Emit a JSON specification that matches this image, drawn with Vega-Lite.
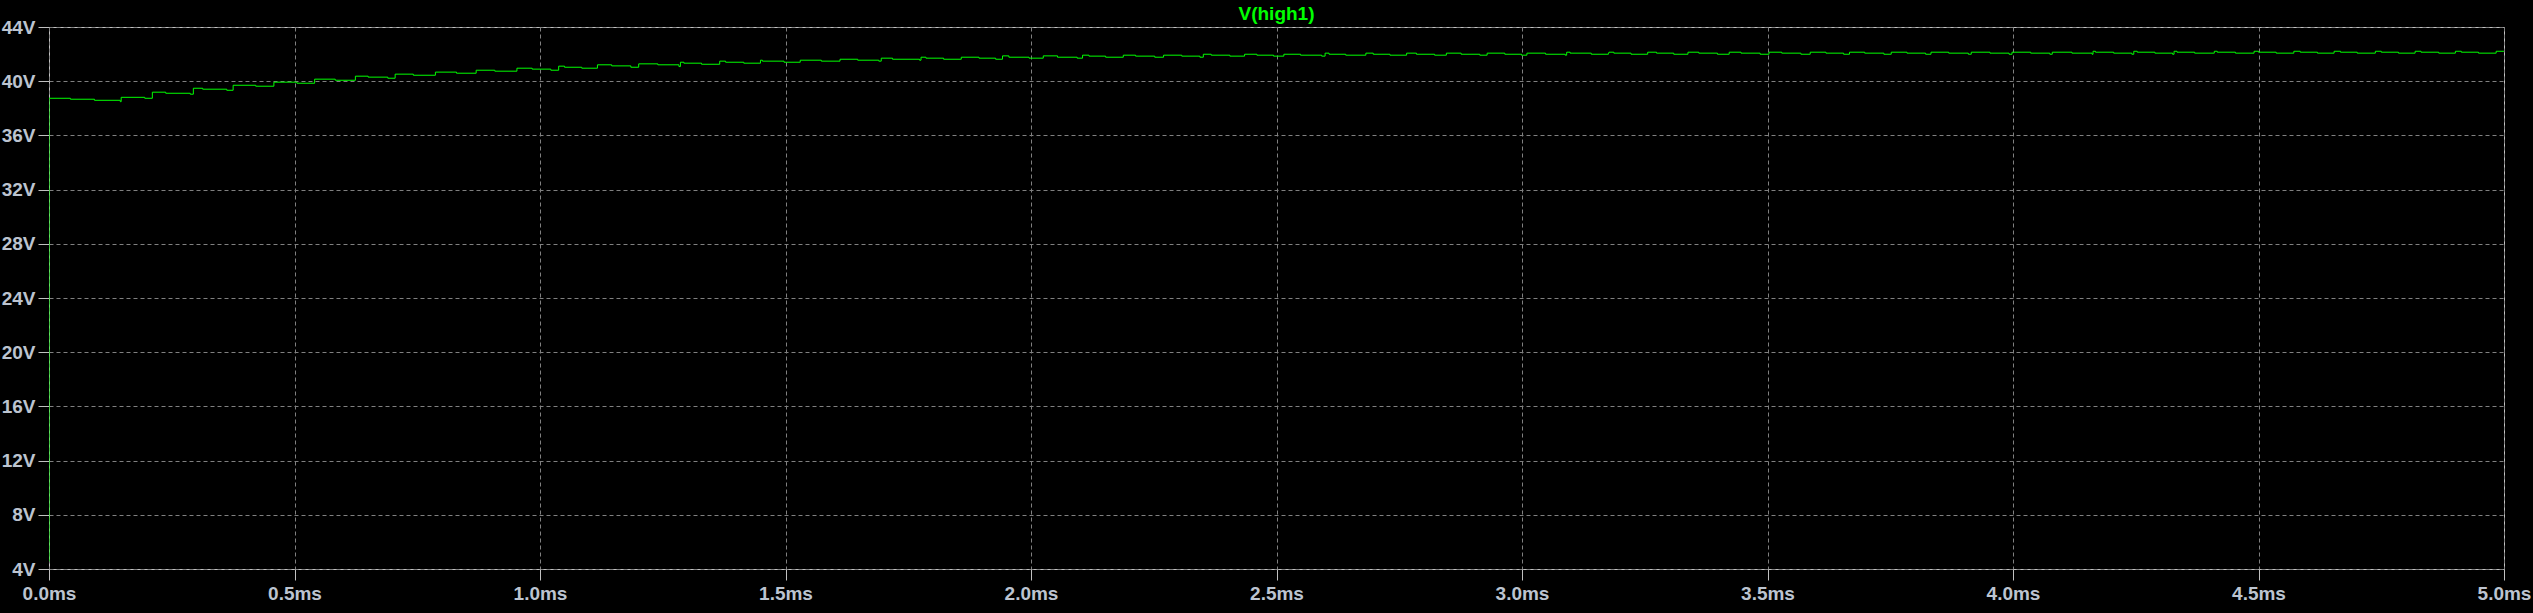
{
  "$schema": "https://vega.github.io/schema/vega-lite/v6.json",
  "autosize": {"type": "none"},
  "padding": {"left": 49, "top": 27, "right": 29, "bottom": 44},
  "width": 2455,
  "height": 542,
  "background": "#000000",
  "title": {
    "text": "V(high1)",
    "color": "#00ff00",
    "font": "Liberation Sans",
    "fontSize": 19,
    "fontWeight": "bold",
    "anchor": "middle",
    "offset": 6,
    "dy": 12
  },
  "config": {
    "view": {"stroke": "#c0c0c0", "strokeWidth": 1, "fill": "#000000"},
    "axis": {
      "domain": false,
      "grid": true,
      "gridColor": "#808080",
      "gridDash": [4, 3],
      "gridWidth": 1,
      "gridOpacity": 1,
      "tickColor": "#c0c0c0",
      "tickSize": 11,
      "tickWidth": 1,
      "labelColor": "#bcc4d0",
      "labelFont": "Liberation Sans",
      "labelFontSize": 19,
      "labelFontWeight": "bold",
      "labelFlush": false,
      "labelOverlap": false,
      "title": null
    }
  },
  "data": {
    "values": [
      {"t": 0, "v": 4.56},
      {"t": 0, "v": 38.74},
      {"t": 0.0436, "v": 38.67},
      {"t": 0.0926, "v": 38.59},
      {"t": 0.1452, "v": 38.49},
      {"t": 0.147, "v": 38.81},
      {"t": 0.195, "v": 38.74},
      {"t": 0.2105, "v": 39.19},
      {"t": 0.2377, "v": 39.11},
      {"t": 0.2877, "v": 39.04},
      {"t": 0.294, "v": 39.48},
      {"t": 0.313, "v": 39.41},
      {"t": 0.362, "v": 39.33},
      {"t": 0.375, "v": 39.70},
      {"t": 0.421, "v": 39.63},
      {"t": 0.458, "v": 39.93},
      {"t": 0.505, "v": 39.85},
      {"t": 0.541, "v": 40.15},
      {"t": 0.583, "v": 40.07},
      {"t": 0.624, "v": 40.37},
      {"t": 0.650, "v": 40.30},
      {"t": 0.690, "v": 40.22},
      {"t": 0.705, "v": 40.52},
      {"t": 0.742, "v": 40.44},
      {"t": 0.787, "v": 40.67},
      {"t": 0.830, "v": 40.59},
      {"t": 0.870, "v": 40.81},
      {"t": 0.908, "v": 40.74},
      {"t": 0.953, "v": 40.96},
      {"t": 0.984, "v": 40.89},
      {"t": 1.022, "v": 40.81},
      {"t": 1.038, "v": 41.11},
      {"t": 1.050, "v": 41.03},
      {"t": 1.085, "v": 40.96},
      {"t": 1.117, "v": 41.21},
      {"t": 1.146, "v": 41.13},
      {"t": 1.185, "v": 41.03},
      {"t": 1.201, "v": 41.28},
      {"t": 1.240, "v": 41.21},
      {"t": 1.283, "v": 41.08},
      {"t": 1.286, "v": 41.40},
      {"t": 1.293, "v": 41.33},
      {"t": 1.329, "v": 41.25},
      {"t": 1.366, "v": 41.48},
      {"t": 1.378, "v": 41.40},
      {"t": 1.415, "v": 41.33},
      {"t": 1.449, "v": 41.55},
      {"t": 1.453, "v": 41.48},
      {"t": 1.497, "v": 41.40},
      {"t": 1.530, "v": 41.55},
      {"t": 1.573, "v": 41.48},
      {"t": 1.611, "v": 41.62},
      {"t": 1.647, "v": 41.55},
      {"t": 1.690, "v": 41.48},
      {"t": 1.695, "v": 41.70},
      {"t": 1.718, "v": 41.62},
      {"t": 1.773, "v": 41.55},
      {"t": 1.776, "v": 41.77},
      {"t": 1.786, "v": 41.70},
      {"t": 1.822, "v": 41.62},
      {"t": 1.858, "v": 41.77},
      {"t": 1.894, "v": 41.70},
      {"t": 1.928, "v": 41.62},
      {"t": 1.942, "v": 41.87},
      {"t": 1.955, "v": 41.77},
      {"t": 1.996, "v": 41.70},
      {"t": 2.025, "v": 41.87},
      {"t": 2.054, "v": 41.77},
      {"t": 2.094, "v": 41.70},
      {"t": 2.105, "v": 41.92},
      {"t": 2.118, "v": 41.85},
      {"t": 2.152, "v": 41.77},
      {"t": 2.188, "v": 41.92},
      {"t": 2.213, "v": 41.85},
      {"t": 2.252, "v": 41.77},
      {"t": 2.270, "v": 41.92},
      {"t": 2.307, "v": 41.85},
      {"t": 2.344, "v": 41.77},
      {"t": 2.351, "v": 41.99},
      {"t": 2.367, "v": 41.92},
      {"t": 2.405, "v": 41.85},
      {"t": 2.435, "v": 41.99},
      {"t": 2.460, "v": 41.92},
      {"t": 2.494, "v": 41.85},
      {"t": 2.515, "v": 41.99},
      {"t": 2.549, "v": 41.92},
      {"t": 2.592, "v": 41.85},
      {"t": 2.599, "v": 42.07},
      {"t": 2.607, "v": 41.99},
      {"t": 2.641, "v": 41.92},
      {"t": 2.682, "v": 42.07},
      {"t": 2.697, "v": 41.99},
      {"t": 2.731, "v": 41.92},
      {"t": 2.765, "v": 42.07},
      {"t": 2.785, "v": 41.99},
      {"t": 2.822, "v": 41.92},
      {"t": 2.846, "v": 42.07},
      {"t": 2.876, "v": 41.99},
      {"t": 2.914, "v": 41.92},
      {"t": 2.929, "v": 42.07},
      {"t": 2.965, "v": 41.99},
      {"t": 2.999, "v": 41.92},
      {"t": 3.010, "v": 42.07},
      {"t": 3.048, "v": 41.99},
      {"t": 3.088, "v": 41.92},
      {"t": 3.091, "v": 42.14},
      {"t": 3.098, "v": 42.07},
      {"t": 3.141, "v": 41.99},
      {"t": 3.176, "v": 42.07},
      {"t": 3.177, "v": 42.14},
      {"t": 3.187, "v": 42.07},
      {"t": 3.222, "v": 41.99},
      {"t": 3.256, "v": 42.14},
      {"t": 3.274, "v": 42.07},
      {"t": 3.309, "v": 41.99},
      {"t": 3.338, "v": 42.14},
      {"t": 3.360, "v": 42.07},
      {"t": 3.398, "v": 41.99},
      {"t": 3.422, "v": 42.14},
      {"t": 3.446, "v": 42.07},
      {"t": 3.485, "v": 41.99},
      {"t": 3.503, "v": 42.14},
      {"t": 3.529, "v": 42.07},
      {"t": 3.568, "v": 41.99},
      {"t": 3.587, "v": 42.14},
      {"t": 3.619, "v": 42.07},
      {"t": 3.655, "v": 41.99},
      {"t": 3.667, "v": 42.14},
      {"t": 3.698, "v": 42.07},
      {"t": 3.737, "v": 41.99},
      {"t": 3.752, "v": 42.14},
      {"t": 3.784, "v": 42.07},
      {"t": 3.822, "v": 41.99},
      {"t": 3.833, "v": 42.14},
      {"t": 3.869, "v": 42.07},
      {"t": 3.909, "v": 41.99},
      {"t": 3.915, "v": 42.14},
      {"t": 3.953, "v": 42.07},
      {"t": 3.992, "v": 41.99},
      {"t": 3.998, "v": 42.14},
      {"t": 4.036, "v": 42.07},
      {"t": 4.075, "v": 41.99},
      {"t": 4.080, "v": 42.14},
      {"t": 4.120, "v": 42.07},
      {"t": 4.161, "v": 41.99},
      {"t": 4.163, "v": 42.21},
      {"t": 4.168, "v": 42.14},
      {"t": 4.205, "v": 42.07},
      {"t": 4.242, "v": 41.99},
      {"t": 4.246, "v": 42.21},
      {"t": 4.253, "v": 42.14},
      {"t": 4.289, "v": 42.07},
      {"t": 4.325, "v": 41.99},
      {"t": 4.328, "v": 42.21},
      {"t": 4.334, "v": 42.14},
      {"t": 4.370, "v": 42.07},
      {"t": 4.410, "v": 42.21},
      {"t": 4.416, "v": 42.14},
      {"t": 4.453, "v": 42.07},
      {"t": 4.491, "v": 42.21},
      {"t": 4.500, "v": 42.14},
      {"t": 4.536, "v": 42.07},
      {"t": 4.572, "v": 42.21},
      {"t": 4.585, "v": 42.14},
      {"t": 4.620, "v": 42.07},
      {"t": 4.654, "v": 42.21},
      {"t": 4.667, "v": 42.14},
      {"t": 4.701, "v": 42.07},
      {"t": 4.738, "v": 42.21},
      {"t": 4.750, "v": 42.14},
      {"t": 4.785, "v": 42.07},
      {"t": 4.819, "v": 42.21},
      {"t": 4.831, "v": 42.14},
      {"t": 4.867, "v": 42.07},
      {"t": 4.901, "v": 42.21},
      {"t": 4.913, "v": 42.14},
      {"t": 4.948, "v": 42.07},
      {"t": 4.984, "v": 42.21},
      {"t": 5.0, "v": 42.21}
    ]
  },
  "mark": {"type": "line", "interpolate": "step-after", "color": "#00ff00", "strokeWidth": 1, "clip": true},
  "encoding": {
    "x": {
      "field": "t",
      "type": "quantitative",
      "scale": {"domain": [0, 5], "nice": false, "zero": false},
      "axis": {
        "values": [0, 0.5, 1, 1.5, 2, 2.5, 3, 3.5, 4, 4.5, 5],
        "labelExpr": "format(datum.value, '.1f') + 'ms'",
        "labelPadding": 4
      }
    },
    "y": {
      "field": "v",
      "type": "quantitative",
      "scale": {"domain": [4, 44], "nice": false, "zero": false},
      "axis": {
        "values": [4, 8, 12, 16, 20, 24, 28, 32, 36, 40, 44],
        "labelExpr": "datum.value + 'V'",
        "labelPadding": 3
      }
    },
    "order": {"field": "t", "type": "quantitative"}
  }
}
